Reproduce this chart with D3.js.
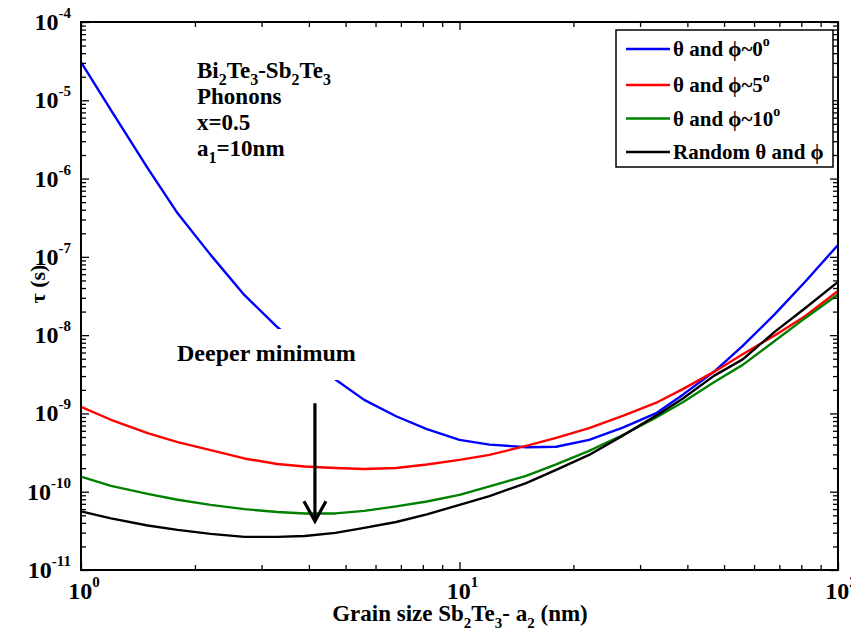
<!DOCTYPE html>
<html>
<head>
<meta charset="utf-8">
<script src="https://cdn.jsdelivr.net/npm/d3@7"></script>
<style>
  html, body { margin: 0; padding: 0; background: #fff; }
  svg { display: block; }
  text { font-family: "Liberation Serif", "Times New Roman", serif; font-weight: bold; fill: #000; }
</style>
</head>
<body>
<svg id="chart" width="851" height="637"></svg>
<script>
// ---------------- data ----------------
const grainSizes = [1, 1.2, 1.5, 1.8, 2.2, 2.7, 3.3, 3.9, 4.7, 5.6, 6.8, 8.2, 10, 12, 15, 18, 22, 27, 33, 39, 47, 56, 68, 82, 100];
const tau0deg  = [3.08e-5, 7.5e-6, 1.36e-6, 3.6e-7, 1.06e-7, 3.26e-8, 1.27e-8, 6.4e-9, 2.72e-9, 1.49e-9, 9.2e-10, 6.3e-10, 4.6e-10, 4.0e-10, 3.7e-10, 3.75e-10, 4.6e-10, 6.6e-10, 1.0e-9, 1.75e-9, 3.4e-9, 7.3e-9, 1.84e-8, 4.85e-8, 1.42e-7];
const tau5deg  = [1.21e-9, 8.3e-10, 5.6e-10, 4.3e-10, 3.4e-10, 2.66e-10, 2.26e-10, 2.1e-10, 2.01e-10, 1.95e-10, 2.01e-10, 2.23e-10, 2.55e-10, 2.95e-10, 3.85e-10, 4.87e-10, 6.5e-10, 9.3e-10, 1.36e-9, 2.06e-9, 3.39e-9, 5.7e-9, 9.9e-9, 1.76e-8, 3.67e-8];
const tau10deg = [1.56e-10, 1.19e-10, 9.4e-11, 7.9e-11, 6.8e-11, 6.0e-11, 5.5e-11, 5.28e-11, 5.28e-11, 5.7e-11, 6.5e-11, 7.5e-11, 9.1e-11, 1.17e-10, 1.59e-10, 2.23e-10, 3.32e-10, 5.3e-10, 8.8e-10, 1.40e-9, 2.5e-9, 4.17e-9, 8.4e-9, 1.66e-8, 3.3e-8];
const tauRandom = [5.6e-11, 4.56e-11, 3.7e-11, 3.25e-11, 2.89e-11, 2.65e-11, 2.65e-11, 2.72e-11, 2.98e-11, 3.45e-11, 4.1e-11, 5.13e-11, 6.8e-11, 8.8e-11, 1.29e-10, 1.9e-10, 2.95e-10, 5.2e-10, 9.3e-10, 1.56e-9, 3.02e-9, 4.9e-9, 1.1e-8, 2.22e-8, 4.8e-8];

const seriesLabels = ["θ and ϕ~0", "θ and ϕ~5", "θ and ϕ~10", "Random θ and ϕ"];
const seriesSup = ["o", "o", "o", ""];
const seriesColors = ["#0000ff", "#ff0000", "#008000", "#000000"];
const seriesValues = [tau0deg, tau5deg, tau10deg, tauRandom];

const xMajorTicks = [1, 10, 100];
const xTickExponents = ["0", "1", "2"];
const yMajorTicks = [1e-11, 1e-10, 1e-9, 1e-8, 1e-7, 1e-6, 1e-5, 1e-4];
const yTickExponents = ["-11", "-10", "-9", "-8", "-7", "-6", "-5", "-4"];

const infoLines = [
  [["Bi", 0], ["2", 1], ["Te", 0], ["3", 1], ["-Sb", 0], ["2", 1], ["Te", 0], ["3", 1]],
  [["Phonons", 0]],
  [["x=0.5", 0]],
  [["a", 0], ["1", 1], ["=10nm", 0]]
];
const annotationText = "Deeper minimum";
const arrowAt = { x: 4.15, yFrom: 1.35e-9, yTo: 4.2e-11 };

// ---------------- layout ----------------
const svg = d3.select("#chart");
const L = 81, R = 838, T = 22, B = 570;
const x = d3.scaleLog().domain([1, 100]).range([L, R]);
const y = d3.scaleLog().domain([1e-11, 1e-4]).range([B, T]);

// minor ticks
const xMinor = [];
for (let d = 1; d < 100; d *= 10) for (let k = 2; k <= 9; k++) xMinor.push(d * k);
const yMinor = [];
for (let e = -11; e < -4; e++) for (let k = 2; k <= 9; k++) yMinor.push(k * Math.pow(10, e));

// ---------------- curves ----------------
const line = d3.line().x(d => x(d[0])).y(d => y(d[1]));
const curvesG = svg.append("g");
seriesValues.forEach((vals, i) => {
  curvesG.append("path")
    .datum(grainSizes.map((g, j) => [g, vals[j]]))
    .attr("d", line)
    .attr("fill", "none")
    .attr("stroke", seriesColors[i])
    .attr("stroke-width", 2.4)
    .attr("stroke-linejoin", "round");
});

// ---------------- axes (box with inward ticks) ----------------
const axG = svg.append("g");
function addAxis(axisFn, scale, values, size, transform) {
  const g = axG.append("g").attr("transform", transform)
    .call(axisFn(scale).tickValues(values).tickSize(size).tickFormat(""));
  g.select(".domain").remove();
  g.selectAll(".tick line").attr("stroke", "#000").attr("stroke-width", 1.3);
  return g;
}
addAxis(d3.axisBottom, x, xMinor, -5, `translate(0,${B})`);
addAxis(d3.axisBottom, x, xMajorTicks, -8, `translate(0,${B})`);
addAxis(d3.axisTop, x, xMinor, -5, `translate(0,${T})`);
addAxis(d3.axisTop, x, xMajorTicks, -8, `translate(0,${T})`);
addAxis(d3.axisLeft, y, yMinor, -5, `translate(${L},0)`);
addAxis(d3.axisLeft, y, yMajorTicks, -8, `translate(${L},0)`);
addAxis(d3.axisRight, y, yMinor, -5, `translate(${R},0)`);
addAxis(d3.axisRight, y, yMajorTicks, -8, `translate(${R},0)`);

axG.append("rect")
  .attr("x", L).attr("y", T).attr("width", R - L).attr("height", B - T)
  .attr("fill", "none").attr("stroke", "#000").attr("stroke-width", 2);

// tick labels
yMajorTicks.forEach((v, i) => {
  const t = svg.append("text").attr("text-anchor", "end")
    .attr("x", 71).attr("y", y(v) + 8).style("font-size", "24px");
  t.append("tspan").text("10");
  t.append("tspan").attr("dy", -12).style("font-size", "15px").text(yTickExponents[i]);
});
xMajorTicks.forEach((v, i) => {
  const t = svg.append("text").attr("text-anchor", "middle")
    .attr("x", x(v) + 3).attr("y", 599).style("font-size", "24px");
  t.append("tspan").text("10");
  t.append("tspan").attr("dy", -12).style("font-size", "15px").text(xTickExponents[i]);
});

// axis titles
const xt = svg.append("text").attr("text-anchor", "middle")
  .attr("x", 460).attr("y", 621).style("font-size", "23px");
xt.append("tspan").text("Grain size Sb");
xt.append("tspan").attr("dy", 7).style("font-size", "15px").text("2");
xt.append("tspan").attr("dy", -7).text("Te");
xt.append("tspan").attr("dy", 7).style("font-size", "15px").text("3");
xt.append("tspan").attr("dy", -7).text("- a");
xt.append("tspan").attr("dy", 7).style("font-size", "15px").text("2");
xt.append("tspan").attr("dy", -7).text(" (nm)");

svg.append("text").attr("text-anchor", "middle")
  .attr("transform", "translate(45,284) rotate(-90)")
  .style("font-size", "22px").text("τ (s)");

// info text
infoLines.forEach((parts, i) => {
  const t = svg.append("text").attr("x", 197).attr("y", 78 + i * 26).style("font-size", "23px");
  let sub = 0;
  parts.forEach(([s, isSub]) => {
    const ts = t.append("tspan").text(s);
    if (isSub && !sub) { ts.attr("dy", 7).style("font-size", "16px"); sub = 1; }
    else if (isSub && sub) { ts.style("font-size", "16px"); }
    else if (!isSub && sub) { ts.attr("dy", -7); sub = 0; }
  });
});

// annotation with white box
svg.append("rect").attr("x", 170).attr("y", 329).attr("width", 196).attr("height", 51).attr("fill", "#fff");
svg.append("text").attr("x", 177).attr("y", 361).style("font-size", "24px").text(annotationText);

// arrow
const ax = x(arrowAt.x), ay1 = y(arrowAt.yFrom), ay2 = y(arrowAt.yTo);
svg.append("line").attr("x1", ax).attr("x2", ax).attr("y1", ay1).attr("y2", ay2)
  .attr("stroke", "#000").attr("stroke-width", 3.2);
svg.append("path")
  .attr("d", `M${ax - 11},${ay2 - 20} L${ax},${ay2} L${ax + 11},${ay2 - 20}`)
  .attr("fill", "none").attr("stroke", "#000").attr("stroke-width", 3.2);

// legend
const lg = svg.append("g");
lg.append("rect").attr("x", 616).attr("y", 30).attr("width", 217).attr("height", 137)
  .attr("fill", "#fff").attr("stroke", "#000").attr("stroke-width", 1.5);
const legendY = [49, 85, 118.5, 152];
seriesLabels.forEach((lab, i) => {
  lg.append("line").attr("x1", 626).attr("x2", 670).attr("y1", legendY[i]).attr("y2", legendY[i])
    .attr("stroke", seriesColors[i]).attr("stroke-width", 2.4);
  const t = lg.append("text").attr("x", 673).attr("y", legendY[i] + 7).style("font-size", "21px");
  t.append("tspan").text(lab);
  if (seriesSup[i]) t.append("tspan").attr("dy", -10).style("font-size", "14px").text(seriesSup[i]);
});
</script>
</body>
</html>
